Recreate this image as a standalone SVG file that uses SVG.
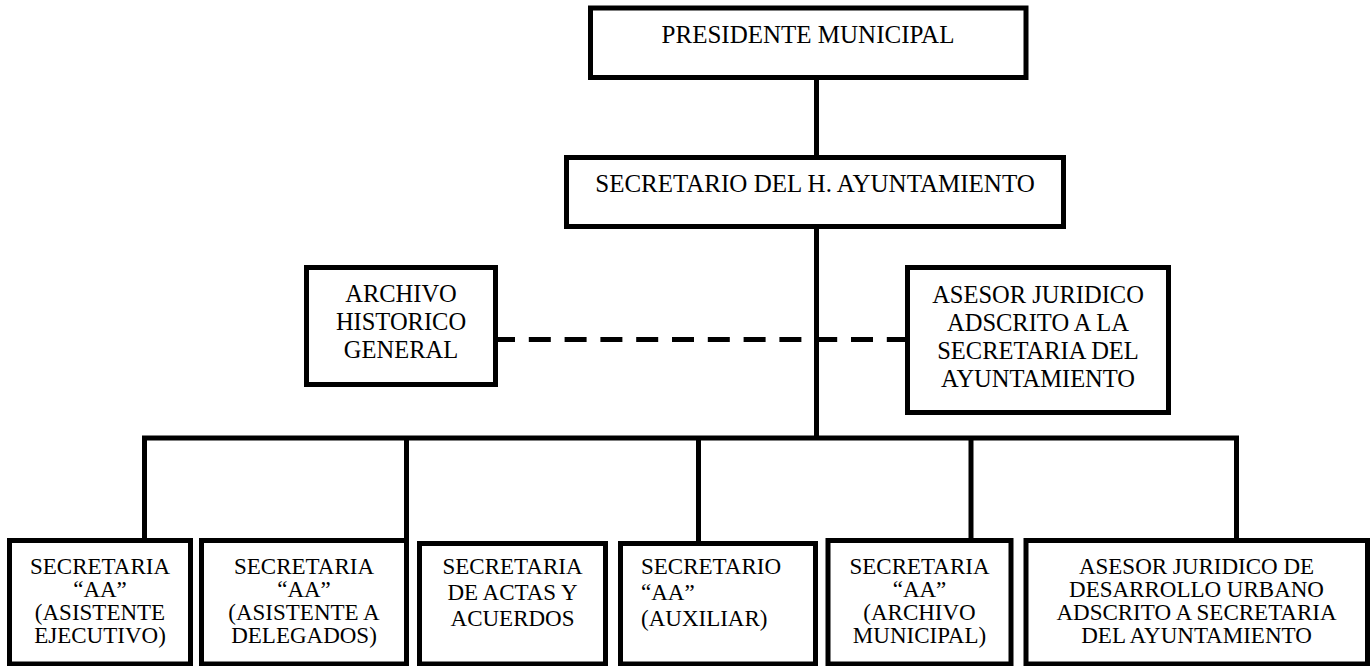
<svg xmlns="http://www.w3.org/2000/svg" width="1372" height="666" viewBox="0 0 1372 666">
<style>
.box{fill:#fff;stroke:#000;stroke-width:5}
.ln{fill:none;stroke:#000;stroke-width:5}
.dash{fill:none;stroke:#000;stroke-width:5;stroke-dasharray:22 13.8;stroke-dashoffset:5}
text{font-family:"Liberation Serif","Times New Roman",serif;fill:#000}
.t25{font-size:25px;text-anchor:middle}
.t24{font-size:24.5px;text-anchor:middle}
.t23{font-size:23px;text-anchor:middle}
.t23l{font-size:23px}
</style>
<rect width="1372" height="666" fill="#fff"/>
<g id="connectors">
<path class="ln" d="M816.5,77.5 V157.5"/>
<path class="ln" d="M816.5,226.5 V438"/>
<path class="ln" d="M144.5,540.5 V438 H1236.5 V540.5"/>
<path class="ln" d="M406.5,438 V540.5"/>
<path class="ln" d="M698.5,438 V543.5"/>
<path class="ln" d="M971,438 V540.5"/>
<path class="dash" d="M498,339.5 H905"/>
</g>
<g id="presidente">
<rect class="box" x="590.5" y="8" width="435.5" height="69.5"/>
<text class="t25" x="808" y="43.3">PRESIDENTE MUNICIPAL</text>
</g>
<g id="secretario">
<rect class="box" x="566.5" y="157.5" width="497" height="69"/>
<text class="t25" x="815" y="191.7">SECRETARIO DEL H. AYUNTAMIENTO</text>
</g>
<g id="archivo-historico">
<rect class="box" x="306.5" y="267.5" width="189" height="117"/>
<text class="t24" x="401" y="302">ARCHIVO</text>
<text class="t24" x="401" y="330">HISTORICO</text>
<text class="t24" x="401" y="358">GENERAL</text>
</g>
<g id="asesor-juridico">
<rect class="box" x="907.5" y="267.5" width="261" height="145"/>
<text class="t24" x="1038" y="302.7">ASESOR JURIDICO</text>
<text class="t24" x="1038" y="331">ADSCRITO A LA</text>
<text class="t24" x="1038" y="359">SECRETARIA DEL</text>
<text class="t24" x="1038" y="387">AYUNTAMIENTO</text>
</g>
<g id="secretaria-ejecutivo">
<rect class="box" x="9.5" y="540.5" width="181" height="123.5"/>
<text class="t23" x="100" y="574">SECRETARIA</text>
<text class="t23" x="100" y="597">“AA”</text>
<text class="t23" x="100" y="620">(ASISTENTE</text>
<text class="t23" x="100" y="643">EJECUTIVO)</text>
</g>
<g id="secretaria-delegados">
<rect class="box" x="201.5" y="540.5" width="205" height="123.5"/>
<text class="t23" x="304" y="574">SECRETARIA</text>
<text class="t23" x="304" y="597">“AA”</text>
<text class="t23" x="304" y="620">(ASISTENTE A</text>
<text class="t23" x="304" y="643">DELEGADOS)</text>
</g>
<g id="secretaria-actas">
<rect class="box" x="419.5" y="543.5" width="186" height="120.5"/>
<text class="t23" x="512.5" y="574">SECRETARIA</text>
<text class="t23" x="512.5" y="600">DE ACTAS Y</text>
<text class="t23" x="512.5" y="626">ACUERDOS</text>
</g>
<g id="secretario-auxiliar">
<rect class="box" x="620.5" y="543.5" width="195" height="120.5"/>
<text class="t23l" x="641" y="574">SECRETARIO</text>
<text class="t23l" x="641" y="600">“AA”</text>
<text class="t23l" x="641" y="626">(AUXILIAR)</text>
</g>
<g id="secretaria-archivo">
<rect class="box" x="828" y="540.5" width="183" height="123.5"/>
<text class="t23" x="919.5" y="574">SECRETARIA</text>
<text class="t23" x="919.5" y="597">“AA”</text>
<text class="t23" x="919.5" y="620">(ARCHIVO</text>
<text class="t23" x="919.5" y="643">MUNICIPAL)</text>
</g>
<g id="asesor-desarrollo">
<rect class="box" x="1026" y="540.5" width="341.5" height="123.5"/>
<text class="t23" x="1196.5" y="574">ASESOR JURIDICO DE</text>
<text class="t23" x="1196.5" y="597">DESARROLLO URBANO</text>
<text class="t23" x="1196.5" y="620">ADSCRITO A SECRETARIA</text>
<text class="t23" x="1196.5" y="643">DEL AYUNTAMIENTO</text>
</g>
</svg>
